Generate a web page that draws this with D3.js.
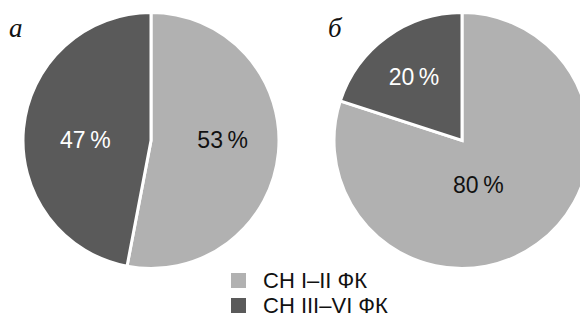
<!DOCTYPE html>
<html>
<head>
<meta charset="utf-8">
<script src="https://cdn.jsdelivr.net/npm/d3@7"></script>
<style>
  html, body { margin: 0; padding: 0; background: #fff; }
  svg { display: block; }
</style>
</head>
<body>
<svg id="chart" width="580" height="320"></svg>
<script>
// ---- data ----
const categories = ["СН I–II ФК", "СН III–VI ФК"];
const panelLabels = ["а", "б"];
const valuesA = [53, 47];
const valuesB = [80, 20];

// ---- layout / style ----
const colors = ["#b1b1b1", "#5a5a5a"];
const textColors = ["#111111", "#ffffff"];
const radius = 128;
const panels = [
  { values: valuesA, label: panelLabels[0], cx: 151, cy: 140.5, lx: 9, ly: 37,
    labelR: [72, 66], labelDx: [0, 0], labelDy: [-7, 6] },
  { values: valuesB, label: panelLabels[1], cx: 462, cy: 140.5, lx: 328, ly: 37,
    labelR: [55, 80], labelDx: [-16, -1], labelDy: [0, 1] }
];

const svg = d3.select("#chart");
const pie = d3.pie().sort(null).value(d => d);
const arc = d3.arc().innerRadius(0).outerRadius(radius);

panels.forEach(p => {
  const g = svg.append("g").attr("transform", `translate(${p.cx},${p.cy})`);
  const arcs = pie(p.values);
  g.selectAll("path.slice")
    .data(arcs)
    .enter().append("path")
    .attr("class", "slice")
    .attr("d", arc)
    .attr("fill", (d, i) => colors[i])
    .attr("stroke", "#fff")
    .attr("stroke-width", 3)
    .attr("stroke-linejoin", "miter");

  g.selectAll("text.pct")
    .data(arcs)
    .enter().append("text")
    .attr("class", "pct")
    .attr("transform", (d, i) => {
      const la = d3.arc().innerRadius(p.labelR[i]).outerRadius(p.labelR[i]);
      const c = la.centroid(d);
      return `translate(${c[0] + p.labelDx[i]},${c[1] + p.labelDy[i] + 8})`;
    })
    .attr("text-anchor", "middle")
    .attr("font-family", "'Liberation Sans', Arial, sans-serif")
    .attr("font-size", 23)
    .attr("fill", (d, i) => textColors[i])
    .text(d => d.data + "\u202F%");

  svg.append("text")
    .attr("x", p.lx)
    .attr("y", p.ly)
    .attr("font-family", "'Liberation Serif', 'Times New Roman', serif")
    .attr("font-style", "italic")
    .attr("font-size", 27)
    .attr("fill", "#111")
    .text(p.label);
});

// legend
const legend = svg.append("g").attr("transform", "translate(231,273)");
const items = legend.selectAll("g.item")
  .data(categories)
  .enter().append("g")
  .attr("class", "item")
  .attr("transform", (d, i) => `translate(0,${i * 25})`);
items.append("rect")
  .attr("width", 15).attr("height", 15)
  .attr("fill", (d, i) => colors[i]);
items.append("text")
  .attr("x", 32).attr("y", 15)
  .attr("font-family", "'Liberation Sans', Arial, sans-serif")
  .attr("font-size", 22)
  .attr("fill", "#111")
  .text(d => d);
</script>
</body>
</html>
